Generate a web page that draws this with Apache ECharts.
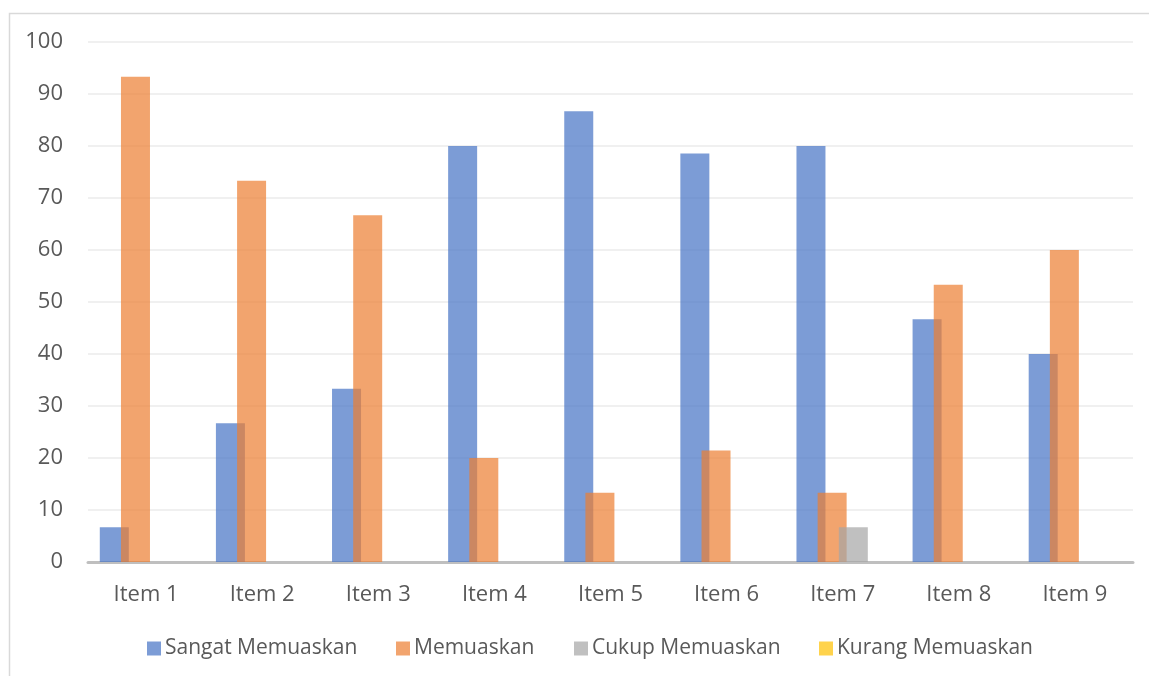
<!DOCTYPE html>
<html>
<head>
<meta charset="utf-8">
<script src="https://cdn.jsdelivr.net/npm/echarts@6/dist/echarts.min.js"></script>
<style>
html,body{margin:0;padding:0;background:#fff;}
#c{width:1149px;height:676px;}
</style>
</head>
<body>
<div id="c"></div>
<script>
const categories = ['Item 1','Item 2','Item 3','Item 4','Item 5','Item 6','Item 7','Item 8','Item 9'];
const sangatMemuaskan = [6.67, 26.67, 33.33, 80, 86.67, 78.57, 80, 46.67, 40];
const memuaskan = [93.33, 73.33, 66.67, 20, 13.33, 21.43, 13.33, 53.33, 60];
const cukupMemuaskan = [0, 0, 0, 0, 0, 0, 6.67, 0, 0];
const kurangMemuaskan = [0, 0, 0, 0, 0, 0, 0, 0, 0];
const seriesNames = ['Sangat Memuaskan','Memuaskan','Cukup Memuaskan','Kurang Memuaskan'];
const colors = ['#4472C4','#ED7D31','#A5A5A5','#FFC000'];

const FONT = 'Open Sans';
const legendLefts = [147, 396, 574, 819];
const chart = echarts.init(document.getElementById('c'), null, {renderer:'canvas'});
const dataSets = [sangatMemuaskan, memuaskan, cukupMemuaskan, kurangMemuaskan];
chart.setOption({
  animation:false,
  color: colors,
  textStyle:{fontFamily:FONT},
  graphic:[{type:'rect', shape:{x:9.5,y:13.5,width:1300,height:800}, style:{fill:'none', stroke:'#D9D9D9', lineWidth:1.5}, silent:true, z:-10}],
  grid:{left:88,right:16,top:42,bottom:114,containLabel:false},
  legend: seriesNames.map((n,i)=>({
    left:legendLefts[i], top:638, itemWidth:14, itemHeight:14, icon:'rect', padding:0,
    textStyle:{color:'#595959', fontSize:21, fontFamily:FONT, padding:[0,0,0,-1]},
    data:[{name:n, itemStyle:{color:colors[i], opacity:0.7}}]
  })),
  xAxis:{
    type:'category', data:categories,
    axisLine:{show:true, lineStyle:{color:'#BFBFBF', width:3}},
    axisTick:{show:false},
    axisLabel:{color:'#595959', fontSize:22, margin:22, fontFamily:FONT}
  },
  yAxis:{
    type:'value', min:0, max:100, interval:10,
    axisLine:{show:false}, axisTick:{show:false},
    axisLabel:{color:'#595959', fontSize:22, margin:25, fontFamily:FONT},
    splitLine:{lineStyle:{color:'#F0F0F0', width:2}}
  },
  series: seriesNames.map((n,i)=>({
    name:n, type:'bar', data:dataSets[i],
    barWidth:29, barGap:'-27%',
    itemStyle:{color:colors[i], opacity:0.7}
  }))
});
</script>
</body>
</html>
